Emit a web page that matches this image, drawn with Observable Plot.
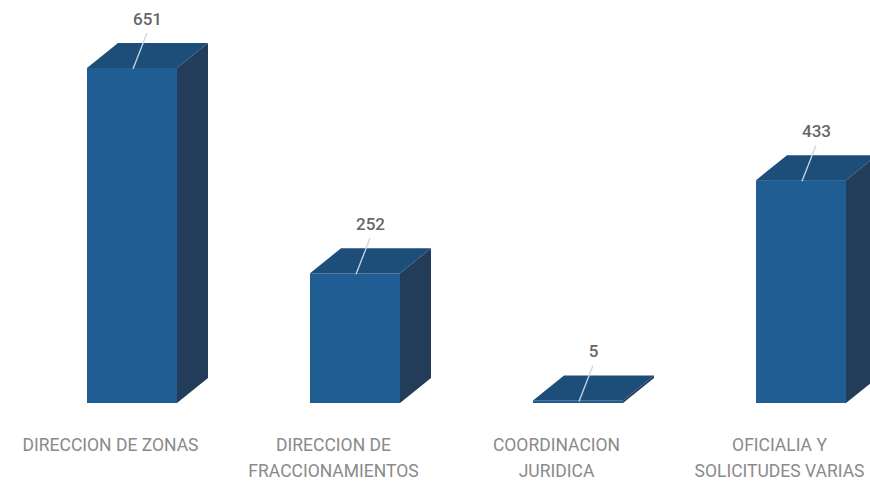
<!DOCTYPE html>
<html>
<head>
<meta charset="utf-8">
<script src="https://cdn.jsdelivr.net/npm/d3@7"></script>
<script src="https://cdn.jsdelivr.net/npm/@observablehq/plot@0.6"></script>
<style>
  html, body { margin: 0; padding: 0; background: #fff; }
  #chart svg { display: block; }
</style>
</head>
<body>
<div id="chart"></div>
<script>
const categories = [
  "DIRECCION DE ZONAS",
  "DIRECCION DE\nFRACCIONAMIENTOS",
  "COORDINACION\nJURIDICA",
  "OFICIALIA Y\nSOLICITUDES VARIAS"
];
const values = [651, 252, 5, 433];

const data = categories.map((c, i) => ({category: c, value: values[i]}));

const DX = 31, DY = -25;
const FRONT = "#1f5d92", TOP = "#1d4e7a", SIDE = "#233c5a";

function faces(index, scales) {
  const x = scales.x, y = scales.y;
  const bw = x.bandwidth();
  const g = d3.create("svg:g");
  for (const d of data) {
    const xl = x(d.category), xr = xl + bw;
    const y0 = y(0), yt = y(d.value);
    g.append("polygon")
      .attr("points", [[xr, yt], [xr + DX, yt + DY], [xr + DX, y0 + DY], [xr, y0]].join(" "))
      .attr("fill", SIDE);
    g.append("polygon")
      .attr("points", [[xl, yt], [xl + DX, yt + DY], [xr + DX, yt + DY], [xr, yt]].join(" "))
      .attr("fill", TOP);
  }
  return g.node();
}

function leaders(index, scales) {
  const x = scales.x, y = scales.y;
  const bw = x.bandwidth();
  const g = d3.create("svg:g");
  for (const d of data) {
    const cx = x(d.category) + bw / 2;
    const yt = y(d.value);
    g.append("line")
      .attr("x1", cx + 15).attr("y1", yt + DY - 10)
      .attr("x2", cx + 1).attr("y2", yt + 1)
      .attr("stroke", "#c9d6e3").attr("stroke-width", 1.3);
  }
  return g.node();
}

const chart = Plot.plot({
  width: 870,
  height: 482,
  marginLeft: 86,
  marginRight: 23,
  marginTop: 0,
  marginBottom: 79,
  style: {background: "#fff", fontFamily: "Roboto, sans-serif"},
  x: {domain: categories, paddingInner: 0.598, paddingOuter: 0, axis: null},
  y: {domain: [0, 783], axis: null},
  marks: [
    Plot.barY(data, {x: "category", y: "value", fill: FRONT}),
    faces,
    leaders,
    Plot.text(data, {
      x: "category", y: "value", text: d => String(d.value),
      dx: 15, dy: DY - 24, fontSize: 17, fontWeight: 500, fill: "#666"
    }),
    Plot.text(data, {
      x: "category", y: () => 0, text: "category",
      dx: -22, dy: 29, lineAnchor: "top", lineHeight: 1.49,
      fontSize: 17.5, fill: "#8a8a8a"
    })
  ]
});
document.getElementById("chart").appendChild(chart);
</script>
</body>
</html>
